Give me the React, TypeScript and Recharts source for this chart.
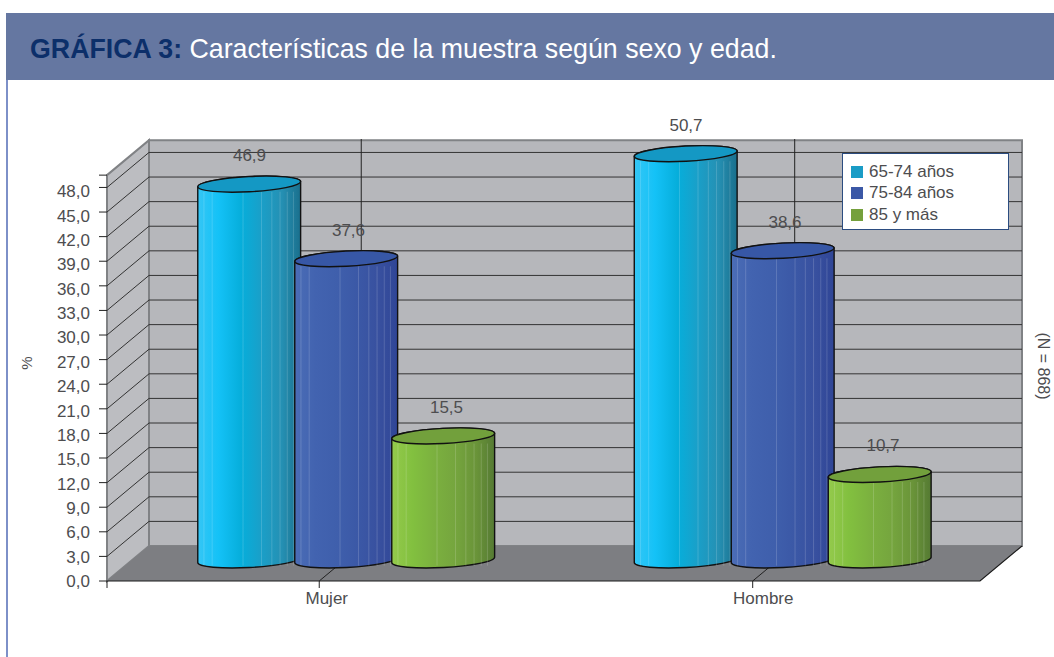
import { Bar, BarChart, CartesianGrid, LabelList, Legend, XAxis, YAxis } from "recharts";

const categories = ["Mujer", "Hombre"];
const age65to74 = [46.9, 50.7];
const age75to84 = [37.6, 38.6];
const age85plus = [15.5, 10.7];
const yTicks = [0, 3, 6, 9, 12, 15, 18, 21, 24, 27, 30, 33, 36, 39, 42, 45, 48];

const chartData = categories.map((name, i) => ({
  name,
  a: age65to74[i],
  b: age75to84[i],
  c: age85plus[i],
}));

const DOMAIN_MAX = 50.7;
const WALL_TOP = 49.5;
const DEPTH_X = 42;
const DEPTH_Y = -35;
const TEXT = "#4d4d4f";

const gradients = [
  {
    id: "cyl-a",
    top: "#1498c4",
    stops: ["#35c6f5", "#14c2f7", "#06aedb", "#1a9fc8", "#2590b3", "#1a6f8c"],
  },
  {
    id: "cyl-b",
    top: "#3757a6",
    stops: ["#4b6db6", "#4263b0", "#3f5fac", "#3b58a6", "#38509f", "#2f4596"],
  },
  {
    id: "cyl-c",
    top: "#72a03c",
    stops: ["#94ca4c", "#82c03f", "#7bb03f", "#75a53e", "#6a9439", "#557a33"],
  },
];

// the grid calls this once per tick, the first call also lays down the walls and floor
function GridRow(props: any) {
  const { x, y, width, height, x1, x2, y1, index } = props;
  const left = x;
  const right = x + width;
  const bottom = y + height;
  const top = bottom - (height * WALL_TOP) / DOMAIN_MAX;
  return (
    <g key={index}>
      {index === 0 && (
        <g>
          <path
            d={`M${left + DEPTH_X} ${top + DEPTH_Y}H${right + DEPTH_X}V${bottom + DEPTH_Y}H${left + DEPTH_X}Z`}
            fill="#b6b7bb"
            stroke="#808285"
            strokeWidth={2}
          />
          <path
            d={`M${left} ${top}L${left + DEPTH_X} ${top + DEPTH_Y}V${bottom + DEPTH_Y}L${left} ${bottom}Z`}
            fill="#bcbdc1"
            stroke="#808285"
            strokeWidth={2}
          />
          <path
            d={`M${left} ${bottom}L${left + DEPTH_X} ${bottom + DEPTH_Y}H${right + DEPTH_X}L${right} ${bottom}Z`}
            fill="#7d7e82"
          />
          <path
            d={`M${left} ${bottom}H${right}L${right + DEPTH_X} ${bottom + DEPTH_Y}`}
            fill="none"
            stroke="#1a1a1a"
            strokeWidth={1.2}
          />
          <path d={`M${left} ${top}H${left - 8}M${left} ${bottom}V${bottom + 7}`} stroke="#222" strokeWidth={1} />
        </g>
      )}
      {y1 < bottom - 5 && y1 > top && (
        <path
          d={`M${x1} ${y1}L${x1 + DEPTH_X} ${y1 + DEPTH_Y}H${x2 + DEPTH_X}`}
          fill="none"
          stroke="#333"
          strokeWidth={1}
        />
      )}
    </g>
  );
}

// the tick marks in the source sit a little left of the category centres
const tickPosition = (x: number) => x * 0.99304 - 3.75;

function GridColumn(props: any) {
  const { x, x1, y, width, height, index } = props;
  if (x1 < x + 5 || x1 > x + width - 5) return <g key={index} />;
  const bottom = y + height;
  const tickX = tickPosition(x1);
  return (
    <path
      key={index}
      d={`M${tickX} ${bottom}L${tickX + DEPTH_X} ${bottom + DEPTH_Y}V139`}
      fill="none"
      stroke="#222"
      strokeWidth={1}
    />
  );
}

function CategoryTick(props: any) {
  const { x, y, payload } = props;
  return (
    <g>
      <path d={`M${tickPosition(x)} ${y}v7`} stroke="#222" strokeWidth={1} />
      <text x={x + 1.5} y={y + 23} textAnchor="middle" fontSize={17} fill={TEXT}>
        {payload.value}
      </text>
    </g>
  );
}

function ValueTick(props: any) {
  const { x, y, payload } = props;
  return (
    <text
      x={x}
      y={y + (581 - y) * 0.01 + 6}
      textAnchor="end"
      fontSize={17}
      fill={TEXT}
    >
      {payload.value.toFixed(1).replace(".", ",")}
    </text>
  );
}

function Cylinder(props: any) {
  const { x, y, width, index, seriesIndex } = props;
  const g = gradients[seriesIndex];
  const rx = width / 2;
  const ry = 7.6;
  const tilt = 3;
  const cx = x + 20.7 + rx;
  const cy = y * 0.978 - 8;
  const base = 560;
  const dx = rx * 0.9986;
  const dy = rx * 0.0523;
  const arc = `${rx} ${ry} ${-tilt}`;
  const stripes = [0.06, 0.14, 0.44, 0.62, 0.72, 0.8, 0.87, 0.93];
  return (
    <g key={index}>
      <path
        d={`M${cx - dx} ${cy + dy}V${base + dy}A${arc} 0 0 ${cx + dx} ${base - dy}V${cy - dy}A${arc} 0 0 ${cx - dx} ${cy + dy}Z`}
        fill={`url(#${g.id})`}
        stroke="#111"
        strokeWidth={1.4}
      />
      {stripes.map((s) => (
        <path
          key={s}
          d={`M${cx - dx + s * 2 * dx} ${cy + ry}V${base + ry - 2}`}
          stroke="#fff"
          strokeOpacity={0.16}
          strokeWidth={1}
        />
      ))}
      <ellipse
        cx={cx}
        cy={cy}
        rx={rx}
        ry={ry}
        transform={`rotate(${-tilt} ${cx} ${cy})`}
        fill={g.top}
        stroke="#111"
        strokeWidth={1.4}
      />
    </g>
  );
}

function ValueLabel(props: any) {
  const { x, y, width, value, shift = 0 } = props;
  const cy = y * 0.978 - 8;
  return (
    <text x={x + 21 + shift + width / 2} y={cy - 23} textAnchor="middle" fontSize={17} fill={TEXT}>
      {String(value).replace(".", ",")}
    </text>
  );
}

function LegendBox({ payload }: any) {
  return (
    <div
      style={{
        boxSizing: "border-box",
        width: 167,
        height: 77,
        background: "#fff",
        border: "1.5px solid #2b4c80",
        padding: "7px 0 0 8px",
        fontSize: 17,
        lineHeight: "21.4px",
        color: TEXT,
      }}
    >
      {(payload ?? []).map((item: any) => (
        <div key={item.value} style={{ display: "flex", alignItems: "center" }}>
          <span style={{ width: 12, height: 12, background: item.color, marginRight: 6 }} />
          {item.value}
        </div>
      ))}
    </div>
  );
}

export default function App() {
  return (
    <div
      style={{
        position: "absolute",
        left: 0,
        top: 0,
        width: 1054,
        height: 657,
        overflow: "hidden",
        background: "#fff",
        fontFamily: "'Liberation Sans', Arial, sans-serif",
      }}
    >
      <div style={{ position: "absolute", left: 6, top: 80, width: 1.5, height: 577, background: "#7d90c8" }} />
      <div
        style={{
          position: "absolute",
          left: 6,
          top: 13,
          width: 1048,
          height: 67,
          background: "#6577a1",
          fontSize: 26.75,
          lineHeight: "72px",
          color: "#fff",
          paddingLeft: 24,
          boxSizing: "border-box",
          whiteSpace: "nowrap",
        }}
      >
        <b style={{ color: "#0c2f6a" }}>GRÁFICA 3:</b> Características de la muestra según sexo y edad.
      </div>
      <BarChart
        width={1054}
        height={657}
        data={chartData}
        barSize={103}
        barGap={-6}
        barCategoryGap={0}
        margin={{ top: 165.3, right: 74, bottom: 46, left: 47 }}
        style={{ position: "absolute", left: 0, top: 0 }}
      >
        <defs>
          {gradients.map((g) => (
            <linearGradient key={g.id} id={g.id} x1="0" y1="0" x2="1" y2="0">
              {g.stops.map((c, i) => (
                <stop key={i} offset={`${[0, 20, 42, 62, 82, 100][i]}%`} stopColor={c} />
              ))}
            </linearGradient>
          ))}
        </defs>
        <CartesianGrid horizontal={(p: any) => <GridRow {...p} />} vertical={(p: any) => <GridColumn {...p} />} />
        <XAxis
          dataKey="name"
          axisLine={false}
          tickLine={false}
          tickSize={0}
          tickMargin={0}
          height={30}
          interval={0}
          tick={<CategoryTick />}
        />
        <YAxis
          width={60}
          domain={[0, DOMAIN_MAX]}
          ticks={yTicks}
          interval={0}
          axisLine={false}
          tickSize={8}
          tickMargin={9}
          tickLine={{ stroke: "#222" }}
          tick={<ValueTick />}
        />
        <Legend
          verticalAlign="middle"
          align="center"
          layout="vertical"
          content={<LegendBox />}
          wrapperStyle={{ position: "absolute", left: 842, top: 153, width: 167, height: 77 }}
        />
        <Bar
          dataKey="a"
          name="65-74 años"
          fill="#1a9cc6"
          isAnimationActive={false}
          shape={(p: any) => <Cylinder {...p} seriesIndex={0} />}
        >
          <LabelList dataKey="a" content={<ValueLabel />} />
        </Bar>
        <Bar
          dataKey="b"
          name="75-84 años"
          fill="#3b58a6"
          isAnimationActive={false}
          shape={(p: any) => <Cylinder {...p} seriesIndex={1} />}
        >
          <LabelList dataKey="b" content={<ValueLabel shift={2} />} />
        </Bar>
        <Bar
          dataKey="c"
          name="85 y más"
          fill="#75a03c"
          isAnimationActive={false}
          shape={(p: any) => <Cylinder {...p} seriesIndex={2} />}
        >
          <LabelList dataKey="c" content={<ValueLabel shift={3} />} />
        </Bar>
        <text x={32} y={363} fontSize={15} fill={TEXT} textAnchor="middle" transform="rotate(-90 32 363)">
          %
        </text>
        <text x={1038} y={366} fontSize={16} fill={TEXT} textAnchor="middle" transform="rotate(90 1038 366)">
          (N = 868)
        </text>
      </BarChart>
    </div>
  );
}
